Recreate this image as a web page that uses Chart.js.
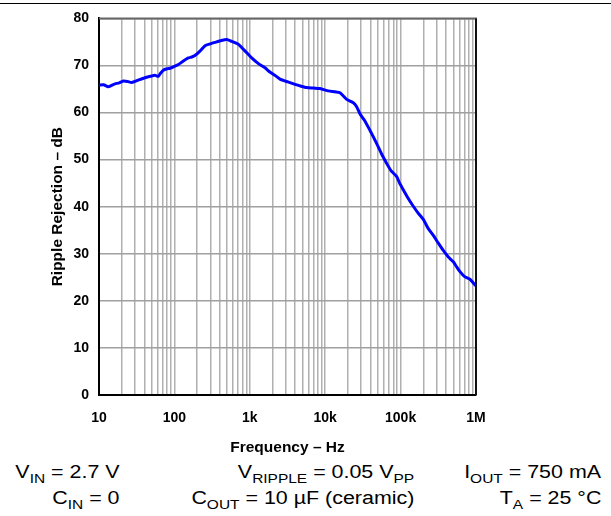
<!DOCTYPE html>
<html>
<head>
<meta charset="utf-8">
<script src="https://cdn.jsdelivr.net/npm/chart.js@4"></script>
<style>
  body { margin: 0; width: 611px; height: 516px; position: relative; background: #fff; overflow: hidden;
         font-family: "Liberation Sans", Arial, sans-serif; }
  #topline { position: absolute; left: 0; top: 3px; width: 611px; height: 1px; background: #000; }
  #wrap { position: absolute; left: 0; top: 0; width: 611px; height: 460px; }
  .cond { position: absolute; font-size: 18px; line-height: 20px; color: #000; white-space: nowrap; text-align: right;
          transform: scaleX(1.19); transform-origin: right center; }
  .cond sub { font-size: 13px; vertical-align: -5px; line-height: 0; }
</style>
</head>
<body>
<div id="topline"></div>
<div id="wrap"><canvas id="chart" width="611" height="460"></canvas></div>

<div class="cond" style="right:491px; top:462px;">V<sub>IN</sub> = 2.7 V</div>
<div class="cond" style="right:491px; top:488px;">C<sub>IN</sub> = 0</div>
<div class="cond" style="right:197px; top:462px;">V<sub>RIPPLE</sub> = 0.05 V<sub>PP</sub></div>
<div class="cond" style="right:197px; top:488px;">C<sub>OUT</sub> = 10 µF (ceramic)</div>
<div class="cond" style="right:10px; top:462px;">I<sub>OUT</sub> = 750 mA</div>
<div class="cond" style="right:10px; top:488px;">T<sub>A</sub> = 25 °C</div>

<script>
// ripple rejection curve
var freqHz = [10, 11.5, 13.3, 16.3, 18.5, 21, 24, 27.2, 33, 40.8, 48, 55.3, 61.1, 65, 71.3, 80, 87.5,
  100, 113, 130, 153, 170, 187, 220, 255, 300, 345, 420, 494, 560, 704, 850,
  1059, 1300, 1590, 1850, 2160, 2515, 3200, 3975, 4800, 5685, 7000, 8535,
  11000, 13500, 15700, 19270, 23600, 26000, 29000, 33000, 39300, 43000, 48200, 56000, 65400, 75000, 88700,
  97000, 108600, 127000, 147300, 170000, 200000, 232000, 271500, 315000, 368000, 430000, 500000,
  555000, 613000, 700000, 832000, 920000, 1000000];
var rippleDb = [65.8, 65.9, 65.5, 66.1, 66.3, 66.7, 66.6, 66.4, 66.9, 67.4, 67.7, 67.9, 67.7, 68.3, 69.0, 69.3, 69.4,
  69.8, 70.2, 70.9, 71.6, 71.8, 72.1, 73.1, 74.2, 74.6, 74.9, 75.3, 75.5, 75.2, 74.5, 73.2,
  71.6, 70.4, 69.5, 68.6, 67.9, 67.1, 66.5, 66.0, 65.6, 65.3, 65.2, 65.1,
  64.6, 64.4, 64.2, 62.8, 62.1, 61.3, 59.7, 58.4, 56.2, 55.0, 53.4, 51.2, 49.2, 47.6, 46.4,
  45.0, 43.6, 41.7, 40.1, 38.7, 37.3, 35.4, 33.9, 32.3, 30.7, 29.3, 28.3,
  27.2, 26.2, 25.2, 24.6, 23.8, 23.2];

var xDecades = [10, 100, 1000, 10000, 100000, 1000000];
var xTickLabels = ['10', '100', '1k', '10k', '100k', '1M'];
var yMin = 0, yMax = 80, yStep = 10;

var points = [];
for (var i = 0; i < freqHz.length; i++) {
  points.push({ x: freqHz[i], y: rippleDb[i] });
}

var tickFont = { family: '"Liberation Sans", Arial, sans-serif', size: 14, weight: 'bold' };
var titleFont = { family: '"Liberation Sans", Arial, sans-serif', size: 15.5, weight: 'bold' };

// top and right edges of the plot frame
var frameLines = {
  id: 'frameLines',
  beforeDatasetsDraw: function(chart) {
    var ctx = chart.ctx, a = chart.chartArea;
    ctx.save();
    ctx.lineWidth = 2;
    ctx.strokeStyle = '#666';
    ctx.beginPath(); ctx.moveTo(a.left, a.top); ctx.lineTo(a.right + 1, a.top); ctx.stroke();
    ctx.strokeStyle = '#111';
    ctx.beginPath(); ctx.moveTo(a.right, a.top); ctx.lineTo(a.right, a.bottom); ctx.stroke();
    ctx.restore();
  }
};

var ctx = document.getElementById('chart').getContext('2d');
var chart = new Chart(ctx, {
  type: 'line',
  data: {
    datasets: [{
      data: points,
      borderColor: '#0000ff',
      borderWidth: 3,
      pointRadius: 0,
      fill: false,
      tension: 0.2
    }]
  },
  options: {
    responsive: false,
    animation: false,
    layout: { padding: { top: 13, right: 135, left: 0, bottom: 0 } },
    plugins: { legend: { display: false }, tooltip: { enabled: false } },
    scales: {
      x: {
        type: 'logarithmic',
        min: 10,
        max: 1000000,
        afterBuildTicks: function(scale) {
          var t = [];
          for (var d = 0; d < xDecades.length - 1; d++) {
            for (var m = 1; m < 10; m++) t.push({ value: xDecades[d] * m });
          }
          t.push({ value: xDecades[xDecades.length - 1] });
          scale.ticks = t;
        },
        afterFit: function(scale) { scale.height = 65; },
        ticks: {
          autoSkip: false,
          maxRotation: 0,
          padding: 15,
          color: '#000',
          font: tickFont,
          callback: function(value) {
            var k = xDecades.indexOf(value);
            return k >= 0 ? xTickLabels[k] : '';
          }
        },
        grid: { color: '#b0b0b0', lineWidth: 1.5, drawTicks: false },
        border: { color: '#000', width: 2 },
        title: {
          display: true,
          text: 'Frequency – Hz',
          color: '#000',
          font: titleFont,
          padding: { top: 0, bottom: 3 }
        }
      },
      y: {
        min: yMin,
        max: yMax,
        afterFit: function(scale) { scale.width = 99; },
        ticks: { stepSize: yStep, padding: 10, color: '#000', font: tickFont },
        grid: { color: '#a0a0a0', lineWidth: 1.5, drawTicks: false },
        border: { color: '#000', width: 2 },
        title: {
          display: true,
          text: 'Ripple Rejection – dB',
          color: '#000',
          font: titleFont,
          padding: { top: 48, bottom: 0 }
        }
      }
    }
  },
  plugins: [frameLines]
});
</script>
</body>
</html>
